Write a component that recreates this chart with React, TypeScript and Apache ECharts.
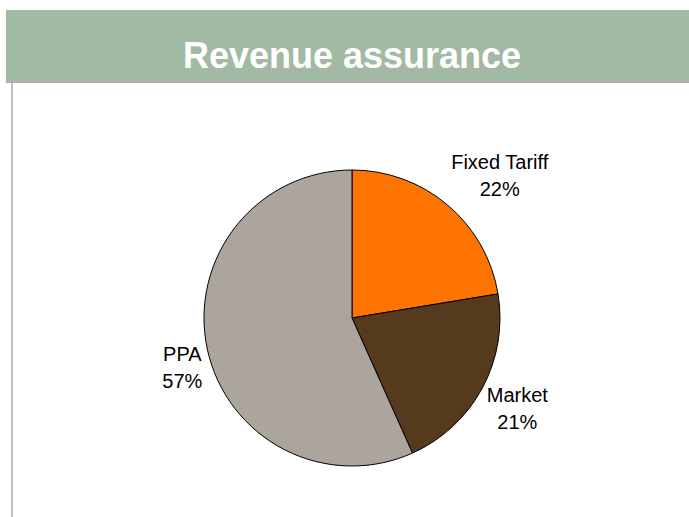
import React, { useEffect, useRef } from "react";
import * as echarts from "echarts";

const TITLE = "Revenue assurance";
const categories = ["Fixed Tariff", "Market", "PPA"];
const values = [22.4, 20.9, 56.7];
const colors = ["#ff7300", "#553a1e", "#aba59e"];

const CX = 352;
const CY = 318;
const R = 148;
const LABEL_GAP = 5;
const LABEL_SHIFT_Y = -4;

export default function App() {
  const ref = useRef<HTMLDivElement>(null);

  useEffect(() => {
    if (!ref.current) return;
    const chart = echarts.init(ref.current, undefined, { renderer: "svg" });
    const total = values.reduce((a, b) => a + b, 0);
    const mids: number[] = [];
    let acc = 0;
    values.forEach((v) => {
      mids.push(((acc + v / 2) / total) * Math.PI * 2);
      acc += v;
    });

    chart.setOption({
      animation: false,
      backgroundColor: "#ffffff",
      graphic: [
        {
          type: "rect",
          shape: { x: 6, y: 10, width: 690, height: 72 },
          style: { fill: "#a2b9a4" },
          z: 1,
        },
        {
          type: "rect",
          shape: { x: 6, y: 81, width: 690, height: 2 },
          style: { fill: "#b3aea6" },
          z: 1,
        },
        {
          type: "rect",
          shape: { x: 11, y: 83, width: 2, height: 440 },
          style: { fill: "#c4c0b8" },
          z: 1,
        },
        {
          type: "text",
          x: 352,
          y: 55,
          style: {
            text: TITLE,
            fill: "#ffffff",
            font: "bold 36px 'Liberation Sans', Arial, sans-serif",
            textAlign: "center",
            textVerticalAlign: "middle",
          },
          z: 2,
        },
      ],
      series: [
        {
          type: "pie",
          center: [CX, CY],
          radius: R,
          startAngle: 90,
          clockwise: true,
          data: categories.map((name, i) => ({
            name,
            value: values[i],
            itemStyle: { color: colors[i] },
          })),
          itemStyle: { borderColor: "#000000", borderWidth: 1 },
          label: {
            show: true,
            position: "outside",
            formatter: (p: any) => `${p.name}\n${Math.round(p.percent)}%`,
            fontFamily: "'Liberation Sans', Arial, sans-serif",
            fontSize: 20,
            lineHeight: 27,
            color: "#000000",
          },
          labelLine: { show: false },
          labelLayout: (p: any) => {
            const a = mids[p.dataIndex];
            const dx = Math.sin(a);
            const dy = -Math.cos(a);
            const w = p.labelRect.width;
            const h = p.labelRect.height - 10;
            return {
              x: CX + dx * (R + LABEL_GAP) + Math.sign(dx) * w / 2,
              y: CY + dy * (R + LABEL_GAP) + Math.sign(dy) * h / 2 + LABEL_SHIFT_Y,
              align: "center",
              verticalAlign: "middle",
            };
          },
          emphasis: { disabled: true },
          silent: true,
        },
      ],
    });
    return () => chart.dispose();
  }, []);

  return (
    <div
      ref={ref}
      style={{ position: "fixed", left: 0, top: 0, width: 689, height: 517 }}
    />
  );
}
